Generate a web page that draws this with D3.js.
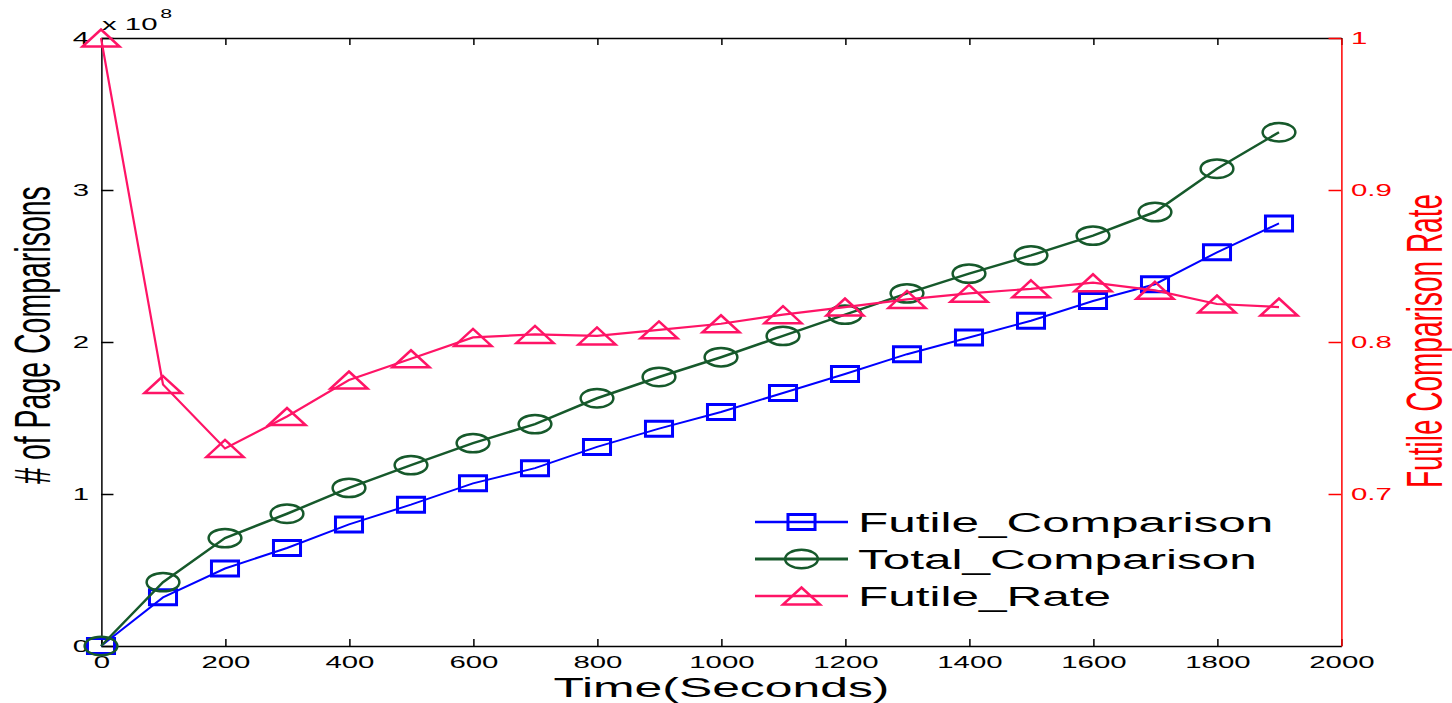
<!DOCTYPE html>
<html>
<head>
<meta charset="utf-8">
<script src="https://cdn.jsdelivr.net/npm/d3@7"></script>
<style>
  body { margin: 0; background: #fff; }
  svg { display: block; }
  text { font-family: "Liberation Sans", Arial, Helvetica, sans-serif; }
</style>
</head>
<body>
<div id="chart"></div>
<script>
// time axis (seconds)
var times = [0, 100, 200, 300, 400, 500, 600, 700, 800, 900,
             1000, 1100, 1200, 1300, 1400, 1500, 1600, 1700, 1800, 1900];

// page comparisons, in units of 10^8
var futileComparison = [0, 0.32, 0.51, 0.645, 0.80, 0.93, 1.07, 1.17, 1.31, 1.43,
                        1.54, 1.665, 1.79, 1.92, 2.03, 2.14, 2.27, 2.38, 2.59, 2.78];
var totalComparison  = [0, 0.42, 0.71, 0.87, 1.04, 1.19, 1.335, 1.46, 1.63, 1.77,
                        1.90, 2.04, 2.18, 2.32, 2.45, 2.57, 2.70, 2.855, 3.14, 3.38];

// futile comparison rate (right axis)
var futileRate = [1.0, 0.772, 0.73, 0.751, 0.775, 0.789, 0.803, 0.805, 0.804, 0.808,
                  0.812, 0.818, 0.823, 0.828, 0.832, 0.835, 0.839, 0.834, 0.825, 0.823];

var xTicks = [0, 200, 400, 600, 800, 1000, 1200, 1400, 1600, 1800, 2000];
var leftTicks = [0, 1, 2, 3, 4];
var rightTicks = [0.7, 0.8, 0.9, 1];
var seriesNames = ["Futile_Comparison", "Total_Comparison", "Futile_Rate"];

var colors = { futile: "#0000ff", total: "#16592b", rate: "#ff1466", axisR: "#ff0000" };

// the original figure is stretched sideways, so everything is drawn in a
// narrower space and scaled up in x
var width = 1452, height = 703, stretch = 1.78;
var plotLeft = 101, plotRight = 1341, plotTop = 38, plotBottom = 646;

var x = d3.scaleLinear().domain([0, 2000]).range([plotLeft / stretch, plotRight / stretch]);
var yL = d3.scaleLinear().domain([0, 4]).range([plotBottom, plotTop]);
var yR = d3.scaleLinear().domain([0.6, 1]).range([plotBottom, plotTop]);

var svg = d3.select("#chart").append("svg")
    .attr("width", width)
    .attr("height", height);

var g = svg.append("g").attr("transform", "scale(" + stretch + ",1)");

function styleAxis(sel, color, fontSize) {
  sel.attr("font-family", null).attr("font-size", null);
  sel.selectAll("path, line")
      .attr("vector-effect", "non-scaling-stroke")
      .attr("stroke", color)
      .attr("stroke-width", 1.5);
  sel.selectAll("text")
      .attr("fill", color)
      .style("font-size", fontSize + "px");
}

var tick = 7;

// top border with ticks
g.append("g")
    .attr("transform", "translate(0," + plotTop + ")")
    .call(d3.axisTop(x).tickValues(xTicks).tickFormat("").tickSizeInner(-tick).tickSizeOuter(0))
    .call(styleAxis, "#000", 16.5);

// bottom axis
g.append("g")
    .attr("transform", "translate(0," + plotBottom + ")")
    .call(d3.axisBottom(x).tickValues(xTicks).tickFormat(d3.format("d"))
            .tickSizeInner(-tick).tickSizeOuter(0).tickPadding(10))
    .call(styleAxis, "#000", 16.5);

// left axis
g.append("g")
    .attr("transform", "translate(" + x(0) + ",0)")
    .call(d3.axisLeft(yL).tickValues(leftTicks).tickFormat(d3.format("d"))
            .tickSizeInner(-tick).tickSizeOuter(0).tickPadding(6.7))
    .call(styleAxis, "#000", 16.5);

// right axis (rate)
g.append("g")
    .attr("transform", "translate(" + x(2000) + ",0)")
    .call(d3.axisRight(yR).tickValues(rightTicks)
            .tickFormat(function(d) { return d === 1 ? "1" : d3.format(".1f")(d); })
            .tickSizeInner(-tick).tickSizeOuter(0).tickPadding(5.6))
    .call(styleAxis, colors.axisR, 16.5);

// exponent label
g.append("text")
    .attr("x", 57.3).attr("y", 30)
    .style("font-size", "16.5px")
    .text("x 10");
g.append("text")
    .attr("x", 90).attr("y", 18)
    .style("font-size", "12px")
    .text("8");

// axis titles
g.append("text")
    .attr("transform", "translate(28.1,335) rotate(-90)")
    .attr("text-anchor", "middle")
    .style("font-size", "28.5px")
    .text("# of Page Comparisons");

g.append("text")
    .attr("transform", "translate(810,341) rotate(-90)")
    .attr("text-anchor", "middle")
    .attr("fill", colors.axisR)
    .style("font-size", "28px")
    .text("Futile Comparison Rate");

g.append("text")
    .attr("x", 405.3).attr("y", 697)
    .attr("text-anchor", "middle")
    .style("font-size", "28px")
    .text("Time(Seconds)");

// marker helpers (sizes in the narrow space)
function drawSquare(sel, cx, cy) {
  sel.append("rect")
      .attr("x", cx - 7.6).attr("y", cy - 7.5)
      .attr("width", 15.2).attr("height", 15)
      .attr("fill", "none").attr("stroke", colors.futile)
      .attr("stroke-width", 3).attr("vector-effect", "non-scaling-stroke");
}
function drawCircle(sel, cx, cy) {
  sel.append("circle")
      .attr("cx", cx).attr("cy", cy).attr("r", 9.2)
      .attr("fill", "none").attr("stroke", colors.total)
      .attr("stroke-width", 2.5).attr("vector-effect", "non-scaling-stroke");
}
function drawTriangle(sel, cx, cy) {
  sel.append("path")
      .attr("d", "M" + cx + "," + (cy - 8.5) + "L" + (cx + 10.4) + "," + (cy + 8.5) +
                 "L" + (cx - 10.4) + "," + (cy + 8.5) + "Z")
      .attr("fill", "none").attr("stroke", colors.rate)
      .attr("stroke-width", 2.5).attr("vector-effect", "non-scaling-stroke");
}

var series = [
  { values: futileComparison, y: yL, color: colors.futile, width: 2, marker: drawSquare },
  { values: totalComparison,  y: yL, color: colors.total,  width: 2.5, marker: drawCircle },
  { values: futileRate,       y: yR, color: colors.rate,   width: 2.2, marker: drawTriangle }
];

series.forEach(function(s) {
  var pts = times.map(function(t, i) { return [t, s.values[i]]; });
  var line = d3.line()
      .x(function(d) { return x(d[0]); })
      .y(function(d) { return s.y(d[1]); });
  var sg = g.append("g");
  sg.append("path")
      .datum(pts)
      .attr("d", line)
      .attr("fill", "none")
      .attr("stroke", s.color)
      .attr("stroke-width", s.width)
      .attr("vector-effect", "non-scaling-stroke");
  pts.forEach(function(d) { s.marker(sg, x(d[0]), s.y(d[1])); });
});

// legend
var legendRows = [522, 559, 596];
var legX0 = 755 / stretch, legX1 = 848 / stretch, legMid = (legX0 + legX1) / 2;
series.forEach(function(s, i) {
  var ly = legendRows[i];
  var lg = g.append("g");
  lg.append("line")
      .attr("x1", legX0).attr("x2", legX1)
      .attr("y1", ly).attr("y2", ly)
      .attr("stroke", s.color).attr("stroke-width", s.width + 0.5)
      .attr("vector-effect", "non-scaling-stroke");
  s.marker(lg, legMid, ly);
  lg.append("text")
      .attr("x", 858 / stretch).attr("y", ly + 10)
      .style("font-size", "27.8px")
      .text(seriesNames[i]);
});
</script>
</body>
</html>
